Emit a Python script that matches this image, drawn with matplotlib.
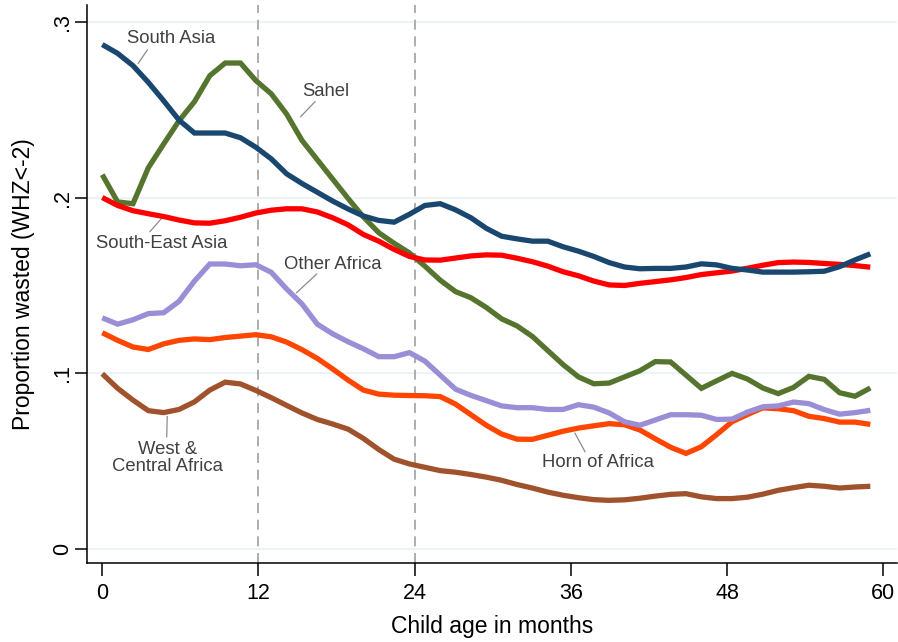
import matplotlib
matplotlib.use("Agg")
import matplotlib.pyplot as plt

plt.rcParams["font.family"] = ["Liberation Sans", "DejaVu Sans"]

# child age (months) of each smoothed point
age = [0, 1.18, 2.36, 3.54, 4.72, 5.9, 7.08, 8.26, 9.44, 10.62,
       11.8, 12.98, 14.16, 15.34, 16.52, 17.7, 18.88, 20.06, 21.24, 22.42,
       23.6, 24.78, 25.96, 27.14, 28.32, 29.5, 30.68, 31.86, 33.04, 34.22,
       35.4, 36.58, 37.76, 38.94, 40.12, 41.3, 42.48, 43.66, 44.84, 46.02,
       47.2, 48.38, 49.56, 50.74, 51.92, 53.1, 54.28, 55.46, 56.64, 57.82, 59.0]

south_asia = [0.287, 0.282, 0.275, 0.2655, 0.255, 0.244, 0.2367, 0.2367, 0.2367, 0.234,
              0.2286, 0.222, 0.2135, 0.208, 0.203, 0.198, 0.1935, 0.1895, 0.187, 0.186,
              0.1905, 0.1955, 0.1965, 0.193, 0.1885, 0.1825, 0.178, 0.1765, 0.1752, 0.1752,
              0.172, 0.1695, 0.1665, 0.163, 0.1605, 0.1595, 0.1597, 0.1597, 0.1605, 0.1623,
              0.1617, 0.1597, 0.1588, 0.1576, 0.1576, 0.1576, 0.1578, 0.1581, 0.1607, 0.1645, 0.168]

sahel = [0.213, 0.1975, 0.1965, 0.217, 0.2305, 0.2437, 0.2545, 0.2693, 0.2765, 0.2765,
         0.2665, 0.259, 0.2475, 0.2325, 0.2215, 0.2105, 0.1995, 0.189, 0.18, 0.174,
         0.1685, 0.161, 0.153, 0.1465, 0.143, 0.1375, 0.131, 0.127, 0.121, 0.113,
         0.105, 0.098, 0.0941, 0.0945, 0.098, 0.1015, 0.1067, 0.1065, 0.099, 0.0915,
         0.0958, 0.1, 0.0968, 0.0917, 0.0885, 0.092, 0.0983, 0.0966, 0.089, 0.087, 0.0917]

se_asia = [0.2, 0.1955, 0.1925, 0.1908, 0.1892, 0.1872, 0.1856, 0.1854, 0.1868, 0.1888,
           0.1912, 0.1928, 0.1936, 0.1936, 0.1918, 0.1885, 0.1845, 0.179, 0.1752, 0.1705,
           0.1665, 0.1645, 0.1644, 0.1656, 0.1668, 0.1674, 0.1672, 0.1655, 0.1635, 0.161,
           0.1578, 0.1555, 0.1525, 0.1503, 0.15, 0.1512, 0.1522, 0.1532, 0.1545, 0.1562,
           0.1572, 0.1582, 0.1598, 0.1615, 0.163, 0.1633, 0.1631, 0.1625, 0.162, 0.1613, 0.1604]

other_africa = [0.1316, 0.128, 0.1305, 0.134, 0.1345, 0.141, 0.1525, 0.1622, 0.1622, 0.1612,
                0.1618, 0.1575, 0.148, 0.1395, 0.128, 0.1225, 0.118, 0.114, 0.1095, 0.1095,
                0.1118, 0.107, 0.099, 0.091, 0.0875, 0.0845, 0.0815, 0.0805, 0.0805, 0.0795,
                0.0795, 0.0822, 0.0808, 0.0775, 0.0725, 0.0705, 0.0735, 0.0765, 0.0765, 0.0762,
                0.0738, 0.074, 0.078, 0.081, 0.0815, 0.0837, 0.0828, 0.0794, 0.0768, 0.0777, 0.079]

horn = [0.1231, 0.1188, 0.115, 0.1136, 0.1168, 0.1188, 0.1196, 0.1192, 0.1204, 0.1212,
        0.122, 0.1208, 0.1178, 0.1135, 0.1085, 0.1025, 0.0962, 0.0905, 0.0882, 0.0876,
        0.0874, 0.0873, 0.0868, 0.0825, 0.0765, 0.0705, 0.0655, 0.0626, 0.0625, 0.0648,
        0.0671, 0.0689, 0.0702, 0.0714, 0.0708, 0.0678, 0.0628, 0.058, 0.0545, 0.0583,
        0.0652, 0.0725, 0.0766, 0.0804, 0.0799, 0.0788, 0.0756, 0.0743, 0.0723, 0.0723, 0.071]

west_central = [0.0998, 0.0915, 0.0848, 0.0788, 0.0777, 0.0795, 0.0838, 0.0905, 0.095, 0.094,
                0.0903, 0.0862, 0.0818, 0.0775, 0.0738, 0.0712, 0.0683, 0.063, 0.0567, 0.0512,
                0.0485, 0.0466, 0.0447, 0.0438, 0.0425, 0.041, 0.0392, 0.0368, 0.0348, 0.0325,
                0.0307, 0.0293, 0.0282, 0.0278, 0.0281, 0.029, 0.0302, 0.0312, 0.0316, 0.0298,
                0.0288, 0.0288, 0.0296, 0.0313, 0.0335, 0.035, 0.0364, 0.0358, 0.0348, 0.0354, 0.0358]

series = [
    (west_central, "#a0522d"),
    (horn, "#ff4500"),
    (other_africa, "#9a8fd6"),
    (sahel, "#55752f"),
    (se_asia, "#ff0000"),
    (south_asia, "#1a476f"),
]

# label text, text position, leader line (from, to)
labels = [
    ("South Asia", (5.3, 0.2907), (3.46, 0.2839), (2.76, 0.2763)),
    ("Sahel", (17.14, 0.2602), (16.34, 0.2545), (15.24, 0.246)),
    ("South-East Asia", (4.56, 0.1736), (4.56, 0.1882), (3.66, 0.1806)),
    ("Other Africa", (17.74, 0.162), (16.47, 0.1565), (14.93, 0.1459)),
    ("West &\nCentral Africa", (5.0, 0.0519), (4.99, 0.0754), (4.95, 0.064)),
    ("Horn of Africa", (38.06, 0.0492), (36.31, 0.066), (37.08, 0.0555)),
]

x_ticks = [0, 12, 24, 36, 48, 60]
y_ticks = [0, 0.1, 0.2, 0.3]
y_tick_labels = ["0", ".1", ".2", ".3"]

fig = plt.figure(figsize=(8.98, 6.42), dpi=100)
ax = fig.add_axes([87.3 / 898, 78.7 / 642, 809.7 / 898, 558.3 / 642])

for yt in y_ticks:
    ax.axhline(yt, color="#eaf2f3", linewidth=1.3, zorder=0)
for xv in (12, 24):
    ax.axvline(xv, color="#a0a0a0", linewidth=1.2, linestyle=(0, (6, 4)), zorder=1)

for values, color in series:
    ax.plot(age, values, color=color, linewidth=3.8, solid_joinstyle="miter",
            solid_capstyle="butt", zorder=3)

for text, (tx, ty), (lx0, ly0), (lx1, ly1) in labels:
    ax.plot([lx0, lx1], [ly0, ly1], color="#8c8c8c", linewidth=0.9, zorder=2)
    ax.text(tx, ty, text, ha="center", va="center", fontsize=13.3,
            color="#404040", linespacing=1.05, zorder=4)

ax.set_xlim(-1.15, 61.05)
ax.set_ylim(-0.008, 0.3095)
ax.set_xticks(x_ticks)
ax.set_yticks(y_ticks)
ax.set_yticklabels(y_tick_labels, rotation=90, va="center")
ax.tick_params(axis="both", direction="out", length=9, width=1.1, color="black",
               labelsize=15.5, pad=5)
ax.tick_params(axis="y", pad=1.5)

ax.spines["top"].set_visible(False)
ax.spines["right"].set_visible(False)
ax.spines["left"].set_linewidth(1.1)
ax.spines["bottom"].set_linewidth(1.1)

ax.set_xlabel("Child age in months", fontsize=16.5, labelpad=8)
ax.set_ylabel("Proportion wasted (WHZ<-2)", fontsize=16.5, labelpad=12)

fig.savefig("out.png", dpi=100)
